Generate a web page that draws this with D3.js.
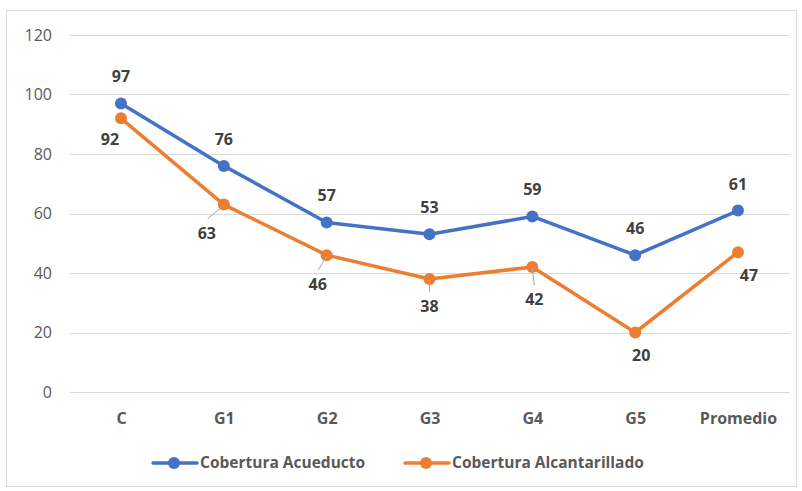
<!DOCTYPE html>
<html>
<head>
<meta charset="utf-8">
<script src="https://cdn.jsdelivr.net/npm/d3@7"></script>
<style>
  body { margin: 0; background: #fff; }
  text { font-family: "Open Sans", "Liberation Sans", sans-serif; }
</style>
</head>
<body>
<div id="container"></div>
<script>
/* CONSTANTS AND GLOBALS */
const width = 802,
  height = 491,
  radius = 5;

// data
const categories = ["C", "G1", "G2", "G3", "G4", "G5", "Promedio"];
const acueducto = [97, 76, 57, 53, 59, 46, 61];
const alcantarillado = [92, 63, 46, 38, 42, 20, 47];
const yTicks = [0, 20, 40, 60, 80, 100, 120];
const seriesNames = ["Cobertura Acueducto", "Cobertura Alcantarillado"];

// label placement (dx, dy from the point), and which ones get a leader line
const blueLabelOffsets = [[0, -21], [0, -21], [0, -21], [0, -21], [0, -21], [0, -21], [0, -21]];
const orangeLabelOffsets = [[-11, 27], [-17, 34], [-9, 35], [0, 33], [2, 38], [6, 28], [11, 29]];
const orangeLeaders = [false, true, true, true, true, false, false];

const blue = "#4472C4",
  orange = "#ED7D31";

const svg = d3.select("#container")
  .append("svg")
  .attr("width", width)
  .attr("height", height);

// outer chart border
svg.append("rect")
  .attr("x", 6.5)
  .attr("y", 10.5)
  .attr("width", 790)
  .attr("height", 476)
  .attr("fill", "none")
  .attr("stroke", "#d9d9d9");

const xScale = d3.scalePoint()
  .domain(categories)
  .range([121, 738]);

const yScale = d3.scaleLinear()
  .domain([0, 120])
  .range([392, 35]);

// gridlines
svg.append("g")
  .selectAll("line")
  .data(yTicks)
  .join("line")
  .attr("x1", 70)
  .attr("x2", 790)
  .attr("y1", d => Math.round(yScale(d)) + 0.5)
  .attr("y2", d => Math.round(yScale(d)) + 0.5)
  .attr("stroke", "#d9d9d9")
  .attr("stroke-width", 1);

// y axis labels
const yAxis = d3.axisLeft(yScale).tickValues(yTicks).tickSize(0).tickPadding(0);
svg.append("g")
  .attr("transform", "translate(52,0)")
  .call(yAxis)
  .call(g => g.select(".domain").remove())
  .selectAll("text")
  .attr("fill", "#595959")
  .attr("font-size", 16)
  .attr("font-family", "'Open Sans', sans-serif");

// x axis labels
const xAxis = d3.axisBottom(xScale).tickSize(0).tickPadding(0);
svg.append("g")
  .attr("transform", "translate(0,413)")
  .call(xAxis)
  .call(g => g.select(".domain").remove())
  .selectAll("text")
  .attr("fill", "#595959")
  .attr("font-size", 16)
  .attr("font-weight", "bold")
  .attr("font-family", "'Open Sans', sans-serif");

const line = d3.line()
  .x((d, i) => xScale(categories[i]))
  .y(d => yScale(d));

function drawSeries(values, color) {
  svg.append("path")
    .datum(values)
    .attr("d", line)
    .attr("fill", "none")
    .attr("stroke", color)
    .attr("stroke-width", 3.5)
    .attr("stroke-linejoin", "round")
    .attr("stroke-linecap", "round");

  svg.append("g")
    .selectAll("circle")
    .data(values)
    .join("circle")
    .attr("cx", (d, i) => xScale(categories[i]))
    .attr("cy", d => yScale(d))
    .attr("r", radius + 1)
    .attr("fill", color);
}

drawSeries(alcantarillado, orange);
drawSeries(acueducto, blue);

// leader lines for the orange labels
svg.append("g")
  .selectAll("line")
  .data(alcantarillado.map((d, i) => ({ v: d, i })).filter(d => orangeLeaders[d.i]))
  .join("line")
  .attr("x1", d => xScale(categories[d.i]))
  .attr("y1", d => yScale(d.v) + 1)
  .attr("x2", d => xScale(categories[d.i]) + orangeLabelOffsets[d.i][0] * 0.95)
  .attr("y2", d => yScale(d.v) + orangeLabelOffsets[d.i][1] - 20)
  .attr("stroke", "#a6a6a6")
  .attr("stroke-width", 1);

function drawLabels(values, offsets) {
  svg.append("g")
    .selectAll("text")
    .data(values)
    .join("text")
    .attr("x", (d, i) => xScale(categories[i]) + offsets[i][0])
    .attr("y", (d, i) => yScale(d) + offsets[i][1])
    .attr("text-anchor", "middle")
    .attr("font-size", 16)
    .attr("font-weight", "bold")
    .attr("fill", "#404040")
    .text(d => d);
}

drawLabels(acueducto, blueLabelOffsets);
drawLabels(alcantarillado, orangeLabelOffsets);

// legend
const legend = svg.append("g")
  .selectAll("g")
  .data(seriesNames)
  .join("g")
  .attr("transform", (d, i) => `translate(${[153, 405][i]},463)`);

legend.append("line")
  .attr("x1", 0)
  .attr("x2", 44)
  .attr("stroke", (d, i) => [blue, orange][i])
  .attr("stroke-width", 3.5)
  .attr("stroke-linecap", "round");

legend.append("circle")
  .attr("cx", 21)
  .attr("r", radius + 1)
  .attr("fill", (d, i) => [blue, orange][i]);

legend.append("text")
  .attr("x", 47)
  .attr("dy", "0.35em")
  .attr("font-size", 15.5)
  .attr("font-weight", "bold")
  .attr("fill", "#595959")
  .text(d => d);
</script>
</body>
</html>
